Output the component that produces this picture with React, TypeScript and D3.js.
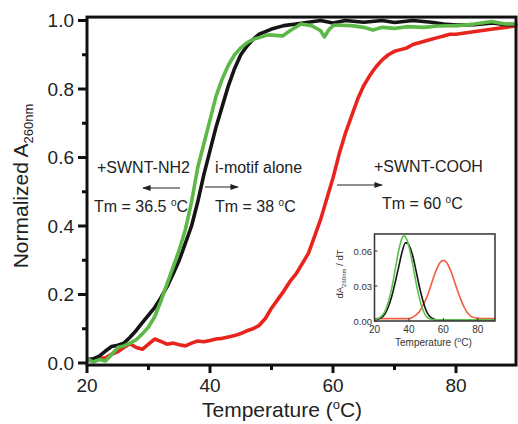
import React from 'react';
import * as d3 from 'd3';

// melting curves, [temperature, normalized A260]
const aloneMelt: [number, number][] = [
  [20, 0.01], [21, 0.012], [22, 0.02], [23, 0.035], [24, 0.048], [25, 0.052], [26, 0.058], [27, 0.075],
  [28, 0.095], [29, 0.118], [30, 0.14], [31, 0.162], [32, 0.19], [33, 0.222], [34, 0.26], [35, 0.3],
  [36, 0.35], [37, 0.4], [38, 0.47], [39, 0.55], [40, 0.62], [41, 0.69], [42, 0.75], [43, 0.81],
  [44, 0.86], [45, 0.9], [46, 0.925], [47, 0.945], [48, 0.96], [50, 0.975], [52, 0.985], [54, 0.99],
  [56, 0.995], [58, 1.0], [60, 0.993], [62, 1.0], [65, 0.995], [68, 1.0], [70, 0.994], [73, 1.0],
  [76, 0.995], [78, 0.99], [80, 0.987], [83, 0.988], [86, 0.993], [88, 0.988], [90, 0.988],
];
const nh2Melt: [number, number][] = [
  [20, 0.012], [21, 0.003], [22, 0.01], [23, 0.006], [24, 0.025], [25, 0.045], [26, 0.05], [27, 0.058],
  [28, 0.068], [29, 0.085], [30, 0.105], [31, 0.135], [32, 0.18], [33, 0.23], [34, 0.28], [35, 0.33],
  [36, 0.39], [37, 0.47], [38, 0.57], [39, 0.64], [40, 0.71], [41, 0.78], [42, 0.83], [43, 0.87],
  [44, 0.9], [45, 0.92], [46, 0.935], [47, 0.945], [48, 0.95], [49.4, 0.958], [51.8, 0.955], [53, 0.97],
  [54.8, 0.99], [56.5, 0.985], [58, 0.97], [58.6, 0.952], [59.4, 0.975], [60.2, 0.987], [63, 0.985],
  [65, 0.98], [66.5, 0.972], [68, 0.98], [70, 0.977], [72, 0.982], [74.8, 0.98], [77, 0.984],
  [80.3, 0.985], [83, 0.99], [85.8, 0.997], [88, 0.99], [90, 0.99],
];
const coohMelt: [number, number][] = [
  [20, 0.01], [21, 0.005], [22, 0.013], [23, 0.015], [24, 0.025], [25, 0.033], [26, 0.045], [27, 0.056],
  [28, 0.045], [29, 0.04], [30, 0.055], [31, 0.07], [32, 0.063], [33, 0.055], [34, 0.058], [35, 0.053],
  [36, 0.05], [37, 0.058], [38, 0.064], [39, 0.062], [40, 0.066], [41, 0.07], [42, 0.072], [43, 0.076],
  [44, 0.08], [45, 0.086], [46, 0.094], [47, 0.1], [48, 0.11], [49, 0.13], [50, 0.16], [51, 0.185],
  [52, 0.21], [53, 0.238], [54, 0.26], [55, 0.29], [56, 0.32], [57, 0.37], [58, 0.42], [59, 0.48],
  [60, 0.54], [61, 0.61], [62, 0.67], [63, 0.72], [64, 0.77], [65, 0.81], [66, 0.84], [67, 0.865],
  [68, 0.885], [69, 0.9], [70, 0.91], [71, 0.915], [72, 0.92], [73, 0.93], [74, 0.935], [75, 0.94],
  [76, 0.945], [77, 0.95], [78, 0.955], [79, 0.96], [80, 0.96], [82, 0.965], [84, 0.97], [86, 0.975],
  [88, 0.98], [90, 0.985],
];

// first derivative curves for the inset, [temperature, dA/dT]
const aloneDeriv: [number, number][] = [
  [20, 0.001], [24, 0.003], [26, 0.006], [28, 0.012], [30, 0.021], [32, 0.033], [34, 0.046], [36, 0.059],
  [38, 0.067], [39, 0.067], [40, 0.065], [42, 0.057], [44, 0.044], [46, 0.03], [48, 0.018], [50, 0.009],
  [52, 0.004], [54, 0.002], [56, 0.001], [90, 0.001],
];
const nh2Deriv: [number, number][] = [
  [20, 0.001], [24, 0.004], [26, 0.008], [28, 0.016], [30, 0.028], [32, 0.044], [34, 0.06], [36, 0.071],
  [37, 0.073], [38, 0.072], [40, 0.064], [42, 0.05], [44, 0.034], [46, 0.02], [48, 0.01], [50, 0.004],
  [52, 0.002], [55, 0.001], [90, 0.001],
];
const coohDeriv: [number, number][] = [
  [20, 0.002], [40, 0.002], [42, 0.003], [44, 0.005], [46, 0.008], [48, 0.013], [50, 0.019], [52, 0.027],
  [54, 0.036], [56, 0.044], [58, 0.05], [60, 0.052], [62, 0.05], [64, 0.044], [66, 0.036], [68, 0.027],
  [70, 0.019], [72, 0.012], [74, 0.007], [76, 0.004], [78, 0.003], [82, 0.002], [90, 0.002],
];

const xMajor = [20, 40, 60, 80];
const xMinor = [30, 50, 70];
const yMajor = [0, 0.2, 0.4, 0.6, 0.8, 1.0];
const yMinor = [0.1, 0.3, 0.5, 0.7, 0.9];
const insetXTicks = [20, 40, 60, 80];
const insetYTicks = [0, 0.03, 0.06];

const FONT = 'Arial, "Liberation Sans", sans-serif';

export default function App() {
  const x = d3.scaleLinear().domain([20, 90]).range([87, 517.5]);
  const y = d3.scaleLinear().domain([0, 1]).range([363, 20.5]);
  const top = y(1.01), bottom = y(-0.006);

  const line = d3.line<[number, number]>().x(d => x(d[0])).y(d => y(d[1]));

  const ix = d3.scaleLinear().domain([20, 90]).range([374.5, 495]);
  const iy = d3.scaleLinear().domain([0, 0.06]).range([321, 251]);
  const iline = d3.line<[number, number]>().x(d => ix(d[0])).y(d => iy(d[1])).curve(d3.curveMonotoneX);

  return (
    <svg width={518} height={424} style={{ position: 'absolute', left: 0, top: 0 }} fontFamily={FONT}>
      <defs>
        <clipPath id="plot"><rect x={x(20)} y={top} width={x(90) - x(20)} height={bottom - top} /></clipPath>
        <marker id="arr" viewBox="0 0 10 10" refX="9" refY="5" markerWidth="7" markerHeight="7" orient="auto-start-reverse">
          <path d="M0,1.5 L10,5 L0,8.5 z" fill="#222" />
        </marker>
      </defs>
      <rect width={518} height={424} fill="#fff" />

      <g clipPath="url(#plot)" fill="none" strokeWidth={3.6} strokeLinejoin="round">
        <path d={line(coohMelt) ?? ''} stroke="#e8251d" />
        <path d={line(aloneMelt) ?? ''} stroke="#151515" />
        <path d={line(nh2Melt) ?? ''} stroke="#5cb947" />
      </g>

      {/* frame */}
      <rect x={x(20)} y={top} width={x(90) - x(20) - 1.5} height={bottom - top} fill="none" stroke="#111" strokeWidth={3} />

      {/* x ticks */}
      {xMajor.map(t => (
        <g key={'xm' + t}>
          <line x1={x(t)} x2={x(t)} y1={bottom} y2={bottom + 8} stroke="#111" strokeWidth={3} />
          <text x={x(t)} y={392} fontSize={19} textAnchor="middle" fill="#222">{t}</text>
        </g>
      ))}
      {xMinor.map(t => (
        <line key={'xn' + t} x1={x(t)} x2={x(t)} y1={bottom} y2={bottom + 5} stroke="#111" strokeWidth={3} />
      ))}
      {/* y ticks */}
      {yMajor.map(t => (
        <g key={'ym' + t}>
          <line x1={x(20)} x2={x(20) - 9} y1={y(t)} y2={y(t)} stroke="#111" strokeWidth={3} />
          <text x={74} y={y(t) + 6.5} fontSize={19} textAnchor="end" fill="#222">{t.toFixed(1)}</text>
        </g>
      ))}
      {yMinor.map(t => (
        <line key={'yn' + t} x1={x(20)} x2={x(20) - 5} y1={y(t)} y2={y(t)} stroke="#111" strokeWidth={3} />
      ))}

      <text x={202} y={417} fontSize={21} fill="#222">
        Temperature (<tspan dy={-8} fontSize={13}>o</tspan><tspan dy={8}>C)</tspan>
      </text>
      <text transform="translate(28,186) rotate(-90)" fontSize={21} textAnchor="middle" fill="#222">
        Normalized A<tspan dy={5} fontSize={13}>260nm</tspan>
      </text>

      {/* annotations */}
      <g fontSize={16} fill="#222">
        <text x={97} y={173}>+SWNT-NH2</text>
        <text x={94} y={212}>Tm = 36.5 <tspan dy={-6} fontSize={10}>o</tspan><tspan dy={6}>C</tspan></text>
        <text x={215} y={173}>i-motif alone</text>
        <text x={215} y={212}>Tm = 38 <tspan dy={-6} fontSize={10}>o</tspan><tspan dy={6}>C</tspan></text>
        <text x={374} y={172}>+SWNT-COOH</text>
        <text x={382} y={209}>Tm = 60 <tspan dy={-6} fontSize={10}>o</tspan><tspan dy={6}>C</tspan></text>
      </g>
      <g stroke="#222" strokeWidth={1.2}>
        <line x1={180} y1={188} x2={143} y2={188} markerEnd="url(#arr)" />
        <line x1={205} y1={187} x2={238} y2={187} markerEnd="url(#arr)" />
        <line x1={337} y1={185} x2={382} y2={185} markerEnd="url(#arr)" />
      </g>

      {/* inset */}
      <rect x={ix(20)} y={iy(0.0746)} width={ix(90) - ix(20)} height={iy(0) - iy(0.0746)} fill="#fff" />
      <g fill="none" strokeWidth={1.6}>
        <path d={iline(coohDeriv) ?? ''} stroke="#f0603e" />
        <path d={iline(aloneDeriv) ?? ''} stroke="#151515" />
        <path d={iline(nh2Deriv) ?? ''} stroke="#5cc04a" />
      </g>
      <rect x={ix(20)} y={iy(0.0746)} width={ix(90) - ix(20)} height={iy(0) - iy(0.0746)} fill="none" stroke="#333" strokeWidth={1.5} />
      {insetXTicks.map(t => (
        <g key={'ix' + t}>
          <line x1={ix(t)} x2={ix(t)} y1={iy(0)} y2={iy(0) - 3} stroke="#333" strokeWidth={1} />
          <text x={ix(t)} y={333} fontSize={10} textAnchor="middle" fill="#333">{t}</text>
        </g>
      ))}
      {insetYTicks.map(t => (
        <g key={'iy' + t}>
          <line x1={ix(20)} x2={ix(20) + 3} y1={iy(t)} y2={iy(t)} stroke="#333" strokeWidth={1} />
          <text x={372} y={iy(t) + 3.5} fontSize={9.5} textAnchor="end" fill="#333">{t.toFixed(2)}</text>
        </g>
      ))}
      <text x={395} y={346} fontSize={10} fill="#333">
        Temperature (<tspan dy={-4} fontSize={7}>o</tspan><tspan dy={4}>C)</tspan>
      </text>
      <text transform="translate(343,274) rotate(-90)" fontSize={9.5} textAnchor="middle" fill="#333">
        dA<tspan dy={3} fontSize={6}>260nm</tspan><tspan dy={-3}> / dT</tspan>
      </text>
    </svg>
  );
}
